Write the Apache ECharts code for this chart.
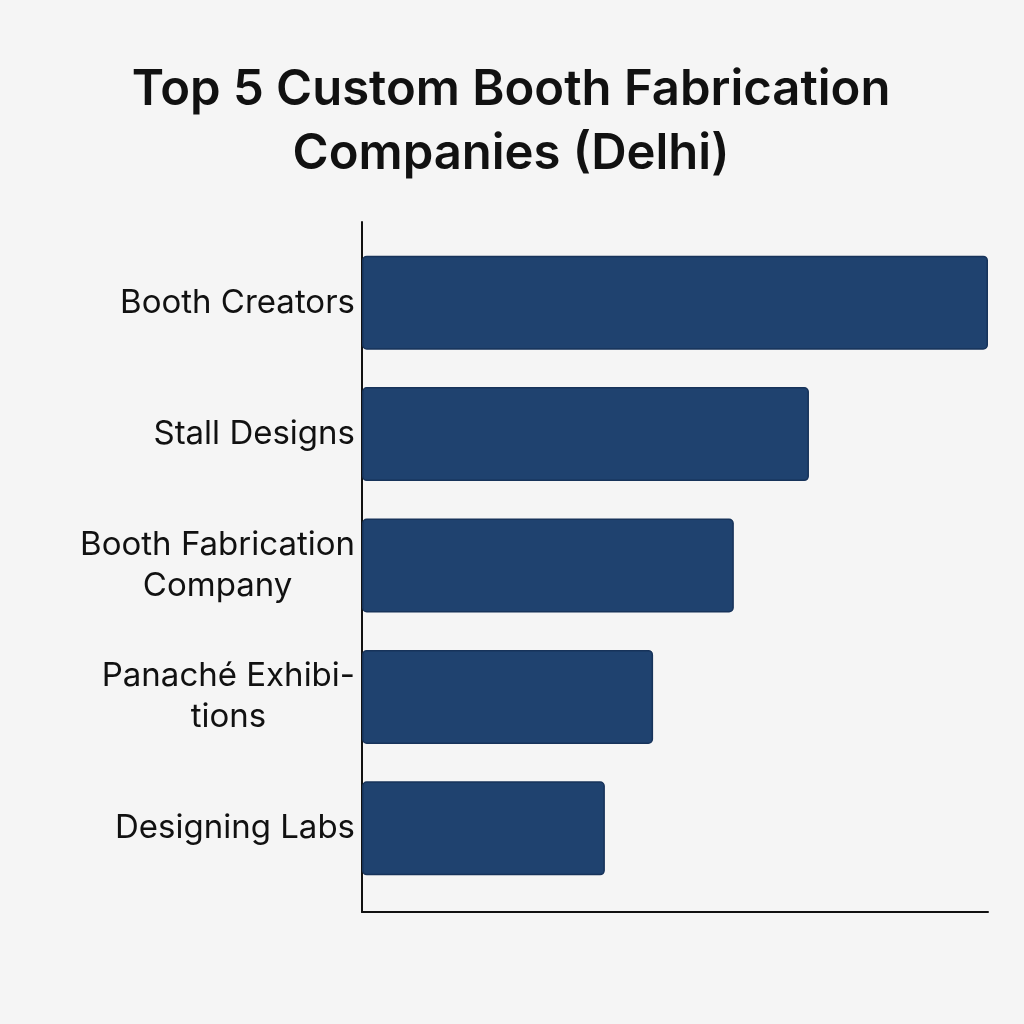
<!DOCTYPE html>
<html>
<head>
<meta charset="utf-8">
<script src="https://cdn.jsdelivr.net/npm/echarts@6/dist/echarts.min.js"></script>
<style>
html,body{margin:0;padding:0;background:#f5f5f5;}
#chart{width:1024px;height:1024px;}
</style>
</head>
<body>
<div id="chart"></div>
<script>
const titleText = 'Top 5 Custom Booth Fabrication\nCompanies (Delhi)';
const categories = ['Booth Creators', 'Stall Designs', 'Booth Fabrication\nCompany', 'Panaché Exhibi-\ntions', 'Designing Labs'];
const values = [100, 71.4, 59.4, 46.5, 38.8];
const xMax = 100;

const chart = echarts.init(document.getElementById('chart'));
chart.setOption({
  backgroundColor: '#f5f5f5',
  animation: false,
  title: {
    text: titleText,
    left: 506,
    textAlign: 'center',
    top: 53,
    textStyle: { fontFamily: 'Inter', fontWeight: 600, fontSize: 49, lineHeight: 64, color: '#111111' }
  },
  grid: [
    { left: 362, right: 36, top: 222, bottom: 112 },
    { left: 362, right: 36, top: 237, bottom: 130 }
  ],
  xAxis: [
    { gridIndex: 0, type: 'value', min: 0, max: 1,
      axisLine: { show: true, lineStyle: { color: '#111111', width: 2 } },
      axisTick: { show: false }, axisLabel: { show: false }, splitLine: { show: false } },
    { gridIndex: 1, type: 'value', min: 0, max: xMax,
      axisLine: { show: false }, axisTick: { show: false }, axisLabel: { show: false }, splitLine: { show: false } }
  ],
  yAxis: [
    { gridIndex: 0, type: 'value', min: 0, max: 1,
      axisLine: { show: true, lineStyle: { color: '#111111', width: 2 } },
      axisTick: { show: false }, axisLabel: { show: false }, splitLine: { show: false } },
    { gridIndex: 1, type: 'category', inverse: true, data: categories,
      axisLine: { show: false }, axisTick: { show: false },
      axisLabel: {
        margin: 7,
        formatter: function (v) {
          return v.split('\n').map(function (s) { return '{c|' + s + '}'; }).join('\n');
        },
        rich: {
          c: { align: 'center', fontFamily: 'Inter', fontSize: 33, lineHeight: 41, color: '#111111' }
        }
      }
    }
  ],
  series: [{
    type: 'bar',
    xAxisIndex: 1,
    yAxisIndex: 1,
    data: values,
    barWidth: 94,
    itemStyle: { color: '#1f426f', borderColor: '#17335a', borderWidth: 1.5, borderRadius: 4 }
  }]
});
</script>
</body>
</html>
